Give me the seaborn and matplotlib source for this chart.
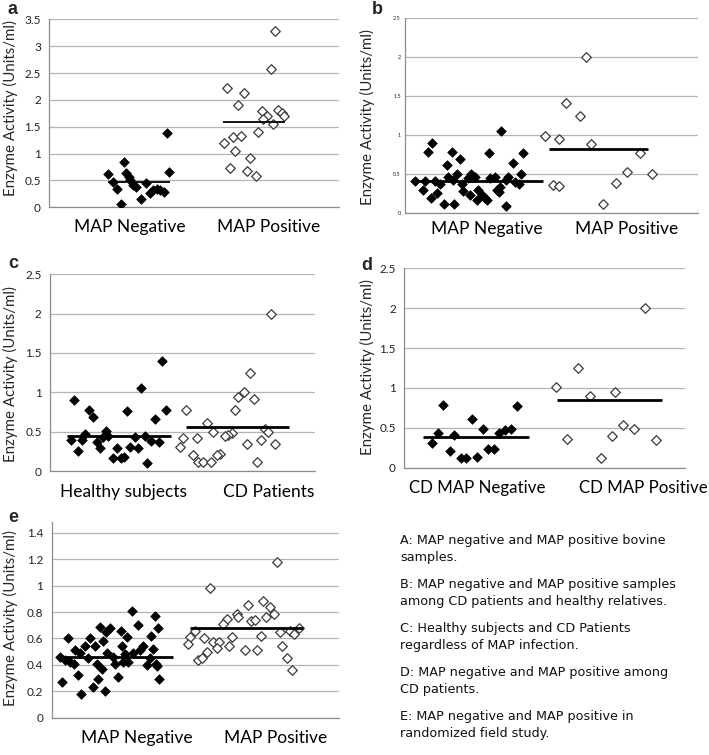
import numpy as np
import pandas as pd
import matplotlib
matplotlib.use("Agg")
import matplotlib.pyplot as plt
import seaborn as sns

# ---- panel a : bovine samples ----
a_labels = ["MAP Negative", "MAP Positive"]
a_neg_x = [0.407, 0.515, 0.529, 0.441, 0.464, 0.492, 0.556, 0.55, 0.579, 0.60, 0.63,
           0.664, 0.694, 0.717, 0.74, 0.763, 0.791, 0.809, 0.828]
a_neg_y = [0.62, 0.84, 0.63, 0.48, 0.35, 0.06, 0.51, 0.56, 0.42, 0.38, 0.15,
           0.46, 0.26, 0.32, 0.35, 0.32, 0.28, 1.39, 0.66]
a_pos_x = [1.223, 1.343, 1.303, 1.556, 1.526, 1.464, 1.499, 1.476, 1.579, 1.602, 1.618,
           1.545, 1.437, 1.205, 1.264, 1.324, 1.28, 1.384, 1.246, 1.361, 1.425]
a_pos_y = [2.23, 2.12, 1.91, 3.28, 2.57, 1.79, 1.70, 1.64, 1.82, 1.76, 1.70,
           1.55, 1.41, 1.19, 1.30, 1.32, 1.05, 0.91, 0.74, 0.67, 0.59]
a_means = [0.47, 1.59]
a_mean_spans = [(0.407, 0.832), (1.20, 1.625)]

# ---- panel b : CD patients and healthy relatives ----
b_labels = ["MAP Negative", "MAP Positive"]
b_neg_x = [0.655, 0.187, 0.159, 0.319, 0.375, 0.573, 0.803, 0.289, 0.739, 0.792, 0.357,
           0.45, 0.068, 0.137, 0.205, 0.296, 0.432, 0.478, 0.58, 0.614, 0.705, 0.689,
           0.774, 0.387, 0.239, 0.121, 0.398, 0.50, 0.626, 0.648, 0.221, 0.175, 0.444,
           0.489, 0.546, 0.523, 0.266, 0.334, 0.689, 0.557, 0.642, 0.751, 0.33]
b_neg_y = [1.06, 0.90, 0.79, 0.78, 0.69, 0.77, 0.77, 0.62, 0.65, 0.51, 0.51,
           0.51, 0.42, 0.42, 0.42, 0.46, 0.45, 0.47, 0.45, 0.46, 0.47, 0.43,
           0.38, 0.38, 0.38, 0.30, 0.29, 0.30, 0.30, 0.34, 0.26, 0.20, 0.23,
           0.17, 0.19, 0.24, 0.12, 0.12, 0.09, 0.17, 0.27, 0.40, 0.43]
b_pos_x = [1.235, 1.099, 1.19, 0.954, 1.053, 1.268, 1.604, 1.513, 1.686, 1.436, 1.012, 1.053, 1.349]
b_pos_y = [2.00, 1.41, 1.25, 0.99, 0.95, 0.89, 0.77, 0.53, 0.50, 0.39, 0.36, 0.35, 0.12]
b_means = [0.415, 0.82]
b_mean_spans = [(0.057, 0.944), (0.985, 1.66)]

# ---- panel c : healthy subjects vs CD patients ----
c_labels = ["Healthy subjects", "CD Patients"]
c_neg_x = [0.848, 0.687, 0.184, 0.297, 0.322, 0.584, 0.873, 0.792, 0.156, 0.214, 0.264,
           0.239, 0.352, 0.377, 0.423, 0.44, 0.402, 0.503, 0.473, 0.536, 0.558, 0.604,
           0.662, 0.642, 0.717, 0.76, 0.825, 0.734]
c_neg_y = [1.40, 1.06, 0.90, 0.78, 0.68, 0.76, 0.78, 0.66, 0.40, 0.25, 0.47,
           0.39, 0.37, 0.29, 0.51, 0.44, 0.43, 0.29, 0.16, 0.17, 0.18, 0.31,
           0.29, 0.43, 0.44, 0.38, 0.37, 0.10]
c_pos_x = [1.668, 1.509, 1.464, 1.421, 1.542, 1.399, 1.026, 1.183, 1.233, 1.623, 1.643,
           1.371, 1.346, 1.321, 1.006, 1.107, 0.981, 1.489, 1.59, 1.698, 1.077, 1.283,
           1.258, 1.119, 1.153, 1.213, 1.565]
c_pos_y = [2.00, 1.25, 1.01, 0.94, 0.91, 0.78, 0.78, 0.61, 0.49, 0.53, 0.50,
           0.48, 0.46, 0.44, 0.42, 0.42, 0.31, 0.34, 0.39, 0.34, 0.20, 0.22,
           0.20, 0.12, 0.11, 0.11, 0.11]
c_means = [0.45, 0.56]
c_mean_spans = [(0.131, 0.911), (1.026, 1.806)]

# ---- panel d : among CD patients ----
d_labels = ["CD MAP Negative", "CD MAP Positive"]
d_neg_x = [0.20, 0.242, 0.278, 0.325, 0.356, 0.404, 0.439, 0.48, 0.52, 0.558, 0.599,
           0.641, 0.677, 0.717, 0.758, 0.80]
d_neg_y = [0.305, 0.43, 0.79, 0.21, 0.41, 0.12, 0.12, 0.61, 0.13, 0.49, 0.23,
           0.24, 0.44, 0.47, 0.48, 0.77]
d_pos_x = [1.078, 1.157, 1.24, 1.323, 1.401, 1.477, 1.501, 1.556, 1.639, 1.715, 1.793]
d_pos_y = [1.01, 0.36, 1.25, 0.90, 0.125, 0.40, 0.945, 0.54, 0.49, 2.00, 0.35]
d_means = [0.38, 0.845]
d_mean_spans = [(0.131, 0.888), (1.086, 1.838)]

# ---- panel e : randomized field study ----
e_labels = ["MAP Negative", "MAP Positive"]
e_neg_x = [0.07, 0.116, 0.058, 0.093, 0.127, 0.155, 0.185, 0.204, 0.197, 0.232, 0.255,
           0.267, 0.29, 0.32, 0.30, 0.336, 0.348, 0.371, 0.378, 0.406, 0.382, 0.429,
           0.44, 0.464, 0.487, 0.48, 0.51, 0.521, 0.498, 0.556, 0.533, 0.568, 0.598,
           0.614, 0.637, 0.66, 0.684, 0.69, 0.707, 0.725, 0.72, 0.742, 0.749, 0.73,
           0.162, 0.313, 0.359]
e_neg_y = [0.27, 0.60, 0.46, 0.44, 0.42, 0.41, 0.32, 0.18, 0.49, 0.54, 0.45,
           0.60, 0.23, 0.29, 0.54, 0.69, 0.37, 0.20, 0.65, 0.68, 0.49, 0.46,
           0.41, 0.31, 0.54, 0.66, 0.48, 0.61, 0.42, 0.81, 0.42, 0.49, 0.70,
           0.51, 0.54, 0.40, 0.45, 0.62, 0.52, 0.41, 0.77, 0.68, 0.29, 0.39,
           0.51, 0.41, 0.58]
e_pos_x = [1.565, 1.101, 1.367, 1.472, 1.518, 1.287, 1.298, 1.548, 1.488, 1.217, 1.193,
           1.386, 1.414, 0.997, 0.962, 0.946, 1.061, 1.124, 1.166, 1.147, 1.256, 1.233,
           1.455, 1.344, 1.425, 1.082, 1.02, 1.043, 1.588, 1.657, 1.687, 1.72, 1.604,
           1.634, 1.673]
e_pos_y = [1.18, 0.98, 0.85, 0.886, 0.84, 0.785, 0.76, 0.785, 0.765, 0.745, 0.71,
           0.73, 0.74, 0.66, 0.61, 0.56, 0.60, 0.575, 0.575, 0.525, 0.61, 0.54,
           0.62, 0.51, 0.51, 0.50, 0.44, 0.45, 0.65, 0.66, 0.63, 0.68, 0.54,
           0.45, 0.36]
e_means = [0.46, 0.677]
e_mean_spans = [(0.05, 0.846), (0.962, 1.75)]

notes = [
    "A: MAP negative and MAP positive bovine\nsamples.",
    "B: MAP negative and MAP positive samples\namong CD patients and healthy relatives.",
    "C: Healthy subjects and CD Patients\nregardless of MAP infection.",
    "D: MAP negative and MAP positive among\nCD patients.",
    "E: MAP negative and MAP positive in\nrandomized field study.",
]

W, H = 709, 755
sns.set_style("white")
plt.rcParams["font.family"] = ["Lato", "DejaVu Sans"]

fig = plt.figure(figsize=(W / 100, H / 100), dpi=100)


def px_axes(x0, y0, x1, y1):
    return fig.add_axes([x0 / W, 1 - y1 / H, (x1 - x0) / W, (y1 - y0) / H])


def panel(ax, neg_x, neg_y, pos_x, pos_y, means, spans, labels, label_x,
          ymax, ystep, ylab_xy, tick_size=8.5, line_w=2.0, xpad=8.5, xsize=12.5):
    neg = pd.DataFrame({"x": neg_x, "y": neg_y})
    pos = pd.DataFrame({"x": pos_x, "y": pos_y})
    sns.scatterplot(data=neg, x="x", y="y", ax=ax, marker="D", s=24,
                    color="black", edgecolor="black", linewidth=0.5, zorder=3)
    sns.scatterplot(data=pos, x="x", y="y", ax=ax, marker="D", s=24,
                    color="white", edgecolor="#3a3a3a", linewidth=0.9, zorder=3)
    for m, (x0, x1) in zip(means, spans):
        ax.plot([x0, x1], [m, m], color="black", lw=line_w, zorder=4,
                solid_capstyle="butt")
    ax.set_xlim(0, 2)
    ax.set_ylim(0, ymax)
    ticks = np.round(np.arange(0, ymax + 1e-6, ystep), 2)
    ax.set_yticks(ticks)
    ax.set_yticklabels([f"{t:g}" for t in ticks], fontsize=tick_size, color="#222222")
    ax.set_xticks(label_x)
    ax.set_xticklabels(labels, fontsize=xsize, color="black")
    ax.tick_params(axis="both", length=0)
    ax.tick_params(axis="x", pad=xpad)
    ax.tick_params(axis="y", pad=6)
    ax.grid(axis="y", color="#b4b4b4", lw=0.9)
    ax.set_axisbelow(True)
    for side in ["top", "right"]:
        ax.spines[side].set_visible(False)
    for side in ["left", "bottom"]:
        ax.spines[side].set_color("#8c8c8c")
        ax.spines[side].set_linewidth(0.9)
    ax.set_xlabel("")
    ax.set_ylabel("Enzyme Activity (Units/ml)", fontsize=10.8)
    # label anchor is the right side of the rotated text
    ax.yaxis.set_label_coords((ylab_xy[0] + 8) / W, 1 - ylab_xy[1] / H,
                              transform=fig.transFigure)
    return ax


ax_a = px_axes(49.3, 19.3, 339.3, 207.3)
panel(ax_a, a_neg_x, a_neg_y, a_pos_x, a_pos_y, a_means, a_mean_spans, a_labels,
      [0.556, 1.51], 3.5, 0.5, (10, 108), line_w=1.3, xpad=8.5)

ax_b = px_axes(405, 18.3, 698.3, 213.3)
panel(ax_b, b_neg_x, b_neg_y, b_pos_x, b_pos_y, b_means, b_mean_spans, b_labels,
      [0.557, 1.513], 2.5, 0.5, (367, 117), tick_size=4, xpad=5.5)
ax_b.tick_params(axis="y", pad=3)

ax_c = px_axes(50, 274.3, 315, 471)
panel(ax_c, c_neg_x, c_neg_y, c_pos_x, c_pos_y, c_means, c_mean_spans, c_labels,
      [0.553, 1.647], 2.5, 0.5, (10, 374), xpad=9.5)

ax_d = px_axes(404.3, 268.3, 685, 467.7)
panel(ax_d, d_neg_x, d_neg_y, d_pos_x, d_pos_y, d_means, d_mean_spans, d_labels,
      [0.52, 1.70], 2.5, 0.5, (367, 367.5), xpad=8.5, xsize=12.2)

ax_e = px_axes(51.7, 522.2, 339.3, 717.7)
panel(ax_e, e_neg_x, e_neg_y, e_pos_x, e_pos_y, e_means, e_mean_spans, e_labels,
      [0.595, 1.558], 1.41, 0.2, (10, 618), xpad=9)
ax_e.set_ylim(0, 1.48)

# panel letters
for letter, (lx, ly) in zip("abcde", [(13, 10), (377, 10), (13, 263), (367, 265), (13, 518)]):
    fig.text(lx / W, 1 - ly / H, letter, fontsize=13, fontweight="bold",
             family=["Liberation Sans", "DejaVu Sans"], ha="center", va="center")

# legend text block
for i, note in enumerate(notes):
    y_top = 534 + i * 44
    fig.text(400 / W, 1 - y_top / H, note, fontsize=9.2, va="top", ha="left",
             family=["DejaVu Sans"], linespacing=1.45, color="#111111")

fig.savefig("out.png", dpi=100)
